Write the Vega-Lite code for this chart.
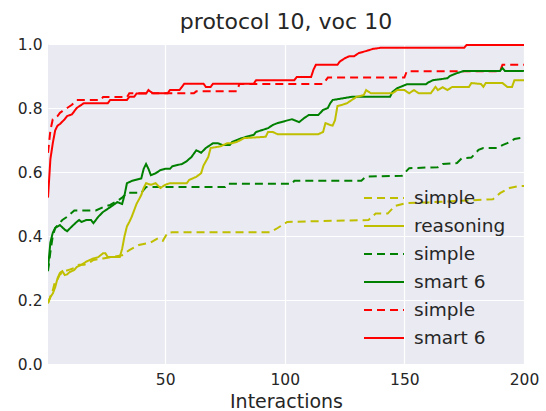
{
  "$schema": "https://vega.github.io/schema/vega-lite/v6.json",
  "width": 476,
  "height": 320,
  "autosize": "none",
  "padding": {"left": 48, "top": 44, "right": 22, "bottom": 47},
  "background": "white",
  "title": {"text": "protocol 10, voc 10", "fontSize": 22, "font": "DejaVu Sans", "fontWeight": "normal", "color": "#262626", "offset": 3},
  "config": {
    "view": {"stroke": null, "fill": "#eaeaf2"},
    "axis": {"grid": true, "gridColor": "white", "gridWidth": 1.2, "domain": false, "ticks": false, "labelFont": "DejaVu Sans", "labelColor": "#262626", "labelFontSize": 15.5, "titleFont": "DejaVu Sans", "titleColor": "#262626", "titleFontSize": 19, "titleFontWeight": "normal"},
    "legend": {"labelFont": "DejaVu Sans", "labelFontSize": 18.5, "labelColor": "#262626"}
  },
  "data": {"values": [
    {"s":"f","x":1,"y":0.52},{"s":"f","x":2,"y":0.64},{"s":"f","x":3,"y":0.69},{"s":"f","x":4,"y":0.73},{"s":"f","x":5,"y":0.745},{"s":"f","x":6,"y":0.75},{"s":"f","x":8,"y":0.765},{"s":"f","x":9,"y":0.775},{"s":"f","x":11,"y":0.78},{"s":"f","x":12,"y":0.79},{"s":"f","x":13,"y":0.8},{"s":"f","x":15,"y":0.81},{"s":"f","x":16,"y":0.815},{"s":"f","x":26,"y":0.815},{"s":"f","x":27,"y":0.825},{"s":"f","x":34,"y":0.825},{"s":"f","x":35,"y":0.835},{"s":"f","x":37,"y":0.835},{"s":"f","x":38,"y":0.845},{"s":"f","x":42,"y":0.845},{"s":"f","x":43,"y":0.856},{"s":"f","x":44,"y":0.85},{"s":"f","x":45,"y":0.846},{"s":"f","x":51,"y":0.846},{"s":"f","x":52,"y":0.856},{"s":"f","x":56,"y":0.856},{"s":"f","x":57,"y":0.866},{"s":"f","x":58,"y":0.876},{"s":"f","x":66,"y":0.876},{"s":"f","x":67,"y":0.866},{"s":"f","x":69,"y":0.866},{"s":"f","x":70,"y":0.876},{"s":"f","x":87,"y":0.876},{"s":"f","x":88,"y":0.887},{"s":"f","x":104,"y":0.887},{"s":"f","x":105,"y":0.897},{"s":"f","x":111,"y":0.897},{"s":"f","x":112,"y":0.92},{"s":"f","x":113,"y":0.935},{"s":"f","x":122,"y":0.935},{"s":"f","x":123,"y":0.945},{"s":"f","x":125,"y":0.955},{"s":"f","x":127,"y":0.962},{"s":"f","x":129,"y":0.962},{"s":"f","x":131,"y":0.972},{"s":"f","x":134,"y":0.978},{"s":"f","x":137,"y":0.985},{"s":"f","x":140,"y":0.988},{"s":"f","x":175,"y":0.988},{"s":"f","x":176,"y":0.997},{"s":"f","x":200,"y":0.997},

    {"s":"e","x":1,"y":0.66},{"s":"e","x":2,"y":0.73},{"s":"e","x":3,"y":0.765},{"s":"e","x":5,"y":0.775},{"s":"e","x":6,"y":0.785},{"s":"e","x":7,"y":0.79},{"s":"e","x":9,"y":0.8},{"s":"e","x":11,"y":0.81},{"s":"e","x":13,"y":0.825},{"s":"e","x":23,"y":0.825},{"s":"e","x":24,"y":0.834},{"s":"e","x":34,"y":0.834},{"s":"e","x":35,"y":0.846},{"s":"e","x":62,"y":0.846},{"s":"e","x":63,"y":0.852},{"s":"e","x":80,"y":0.852},{"s":"e","x":81,"y":0.875},{"s":"e","x":116,"y":0.875},{"s":"e","x":118,"y":0.895},{"s":"e","x":150,"y":0.895},{"s":"e","x":151,"y":0.915},{"s":"e","x":190,"y":0.915},{"s":"e","x":191,"y":0.935},{"s":"e","x":200,"y":0.935},

    {"s":"d","x":1,"y":0.3},{"s":"d","x":2,"y":0.38},{"s":"d","x":3,"y":0.41},{"s":"d","x":4,"y":0.425},{"s":"d","x":6,"y":0.434},{"s":"d","x":8,"y":0.42},{"s":"d","x":9,"y":0.415},{"s":"d","x":11,"y":0.43},{"s":"d","x":13,"y":0.444},{"s":"d","x":14,"y":0.45},{"s":"d","x":15,"y":0.444},{"s":"d","x":17,"y":0.45},{"s":"d","x":19,"y":0.45},{"s":"d","x":20,"y":0.44},{"s":"d","x":22,"y":0.46},{"s":"d","x":24,"y":0.475},{"s":"d","x":27,"y":0.49},{"s":"d","x":30,"y":0.506},{"s":"d","x":32,"y":0.5},{"s":"d","x":33,"y":0.528},{"s":"d","x":34,"y":0.565},{"s":"d","x":36,"y":0.572},{"s":"d","x":40,"y":0.58},{"s":"d","x":41,"y":0.61},{"s":"d","x":42,"y":0.625},{"s":"d","x":43,"y":0.61},{"s":"d","x":44,"y":0.59},{"s":"d","x":46,"y":0.596},{"s":"d","x":48,"y":0.606},{"s":"d","x":50,"y":0.61},{"s":"d","x":52,"y":0.61},{"s":"d","x":53,"y":0.618},{"s":"d","x":57,"y":0.625},{"s":"d","x":59,"y":0.634},{"s":"d","x":61,"y":0.647},{"s":"d","x":63,"y":0.668},{"s":"d","x":65,"y":0.66},{"s":"d","x":67,"y":0.675},{"s":"d","x":70,"y":0.69},{"s":"d","x":72,"y":0.69},{"s":"d","x":74,"y":0.684},{"s":"d","x":77,"y":0.684},{"s":"d","x":78,"y":0.694},{"s":"d","x":82,"y":0.706},{"s":"d","x":87,"y":0.716},{"s":"d","x":88,"y":0.725},{"s":"d","x":93,"y":0.737},{"s":"d","x":95,"y":0.747},{"s":"d","x":97,"y":0.753},{"s":"d","x":103,"y":0.765},{"s":"d","x":106,"y":0.756},{"s":"d","x":108,"y":0.768},{"s":"d","x":110,"y":0.778},{"s":"d","x":114,"y":0.778},{"s":"d","x":116,"y":0.794},{"s":"d","x":118,"y":0.8},{"s":"d","x":119,"y":0.815},{"s":"d","x":120,"y":0.825},{"s":"d","x":128,"y":0.835},{"s":"d","x":144,"y":0.835},{"s":"d","x":145,"y":0.85},{"s":"d","x":147,"y":0.862},{"s":"d","x":151,"y":0.874},{"s":"d","x":159,"y":0.874},{"s":"d","x":160,"y":0.88},{"s":"d","x":162,"y":0.887},{"s":"d","x":168,"y":0.893},{"s":"d","x":169,"y":0.9},{"s":"d","x":172,"y":0.909},{"s":"d","x":175,"y":0.916},{"s":"d","x":190,"y":0.916},{"s":"d","x":191,"y":0.925},{"s":"d","x":192,"y":0.916},{"s":"d","x":200,"y":0.916},

    {"s":"c","x":1,"y":0.29},{"s":"c","x":2,"y":0.35},{"s":"c","x":3,"y":0.4},{"s":"c","x":4,"y":0.425},{"s":"c","x":7,"y":0.45},{"s":"c","x":9,"y":0.46},{"s":"c","x":12,"y":0.48},{"s":"c","x":21,"y":0.48},{"s":"c","x":24,"y":0.49},{"s":"c","x":27,"y":0.497},{"s":"c","x":30,"y":0.51},{"s":"c","x":32,"y":0.52},{"s":"c","x":34,"y":0.535},{"s":"c","x":40,"y":0.535},{"s":"c","x":41,"y":0.544},{"s":"c","x":42,"y":0.553},{"s":"c","x":75,"y":0.553},{"s":"c","x":76,"y":0.563},{"s":"c","x":103,"y":0.563},{"s":"c","x":104,"y":0.573},{"s":"c","x":132,"y":0.573},{"s":"c","x":134,"y":0.586},{"s":"c","x":149,"y":0.588},{"s":"c","x":152,"y":0.612},{"s":"c","x":164,"y":0.615},{"s":"c","x":166,"y":0.625},{"s":"c","x":172,"y":0.628},{"s":"c","x":174,"y":0.643},{"s":"c","x":178,"y":0.645},{"s":"c","x":181,"y":0.669},{"s":"c","x":183,"y":0.675},{"s":"c","x":189,"y":0.675},{"s":"c","x":191,"y":0.684},{"s":"c","x":193,"y":0.69},{"s":"c","x":196,"y":0.703},{"s":"c","x":200,"y":0.708},

    {"s":"b","x":1,"y":0.19},{"s":"b","x":2,"y":0.21},{"s":"b","x":3,"y":0.22},{"s":"b","x":4,"y":0.24},{"s":"b","x":5,"y":0.268},{"s":"b","x":6,"y":0.285},{"s":"b","x":7,"y":0.29},{"s":"b","x":8,"y":0.278},{"s":"b","x":9,"y":0.28},{"s":"b","x":10,"y":0.287},{"s":"b","x":12,"y":0.294},{"s":"b","x":13,"y":0.303},{"s":"b","x":15,"y":0.31},{"s":"b","x":17,"y":0.32},{"s":"b","x":20,"y":0.33},{"s":"b","x":22,"y":0.334},{"s":"b","x":24,"y":0.346},{"s":"b","x":25,"y":0.346},{"s":"b","x":26,"y":0.334},{"s":"b","x":31,"y":0.334},{"s":"b","x":32,"y":0.36},{"s":"b","x":33,"y":0.4},{"s":"b","x":34,"y":0.43},{"s":"b","x":35,"y":0.444},{"s":"b","x":36,"y":0.46},{"s":"b","x":37,"y":0.48},{"s":"b","x":38,"y":0.5},{"s":"b","x":40,"y":0.528},{"s":"b","x":41,"y":0.55},{"s":"b","x":42,"y":0.565},{"s":"b","x":44,"y":0.56},{"s":"b","x":46,"y":0.565},{"s":"b","x":48,"y":0.55},{"s":"b","x":50,"y":0.56},{"s":"b","x":52,"y":0.565},{"s":"b","x":59,"y":0.565},{"s":"b","x":60,"y":0.575},{"s":"b","x":63,"y":0.585},{"s":"b","x":65,"y":0.596},{"s":"b","x":66,"y":0.62},{"s":"b","x":68,"y":0.647},{"s":"b","x":69,"y":0.675},{"s":"b","x":73,"y":0.68},{"s":"b","x":76,"y":0.69},{"s":"b","x":78,"y":0.69},{"s":"b","x":80,"y":0.694},{"s":"b","x":83,"y":0.706},{"s":"b","x":92,"y":0.71},{"s":"b","x":93,"y":0.725},{"s":"b","x":95,"y":0.725},{"s":"b","x":97,"y":0.718},{"s":"b","x":114,"y":0.718},{"s":"b","x":116,"y":0.725},{"s":"b","x":117,"y":0.753},{"s":"b","x":119,"y":0.747},{"s":"b","x":120,"y":0.745},{"s":"b","x":121,"y":0.762},{"s":"b","x":122,"y":0.806},{"s":"b","x":124,"y":0.81},{"s":"b","x":126,"y":0.815},{"s":"b","x":128,"y":0.825},{"s":"b","x":130,"y":0.835},{"s":"b","x":133,"y":0.84},{"s":"b","x":134,"y":0.856},{"s":"b","x":136,"y":0.846},{"s":"b","x":145,"y":0.846},{"s":"b","x":147,"y":0.856},{"s":"b","x":150,"y":0.856},{"s":"b","x":152,"y":0.846},{"s":"b","x":154,"y":0.856},{"s":"b","x":156,"y":0.846},{"s":"b","x":161,"y":0.846},{"s":"b","x":163,"y":0.866},{"s":"b","x":164,"y":0.856},{"s":"b","x":166,"y":0.865},{"s":"b","x":168,"y":0.856},{"s":"b","x":170,"y":0.866},{"s":"b","x":177,"y":0.866},{"s":"b","x":178,"y":0.878},{"s":"b","x":182,"y":0.875},{"s":"b","x":183,"y":0.866},{"s":"b","x":184,"y":0.878},{"s":"b","x":191,"y":0.878},{"s":"b","x":193,"y":0.866},{"s":"b","x":195,"y":0.866},{"s":"b","x":196,"y":0.887},{"s":"b","x":200,"y":0.887},

    {"s":"a","x":1,"y":0.19},{"s":"a","x":2,"y":0.21},{"s":"a","x":3,"y":0.23},{"s":"a","x":4,"y":0.26},{"s":"a","x":5,"y":0.265},{"s":"a","x":6,"y":0.28},{"s":"a","x":8,"y":0.29},{"s":"a","x":10,"y":0.295},{"s":"a","x":12,"y":0.3},{"s":"a","x":14,"y":0.31},{"s":"a","x":16,"y":0.31},{"s":"a","x":18,"y":0.315},{"s":"a","x":20,"y":0.325},{"s":"a","x":24,"y":0.33},{"s":"a","x":28,"y":0.335},{"s":"a","x":32,"y":0.34},{"s":"a","x":35,"y":0.356},{"s":"a","x":39,"y":0.372},{"s":"a","x":44,"y":0.38},{"s":"a","x":47,"y":0.393},{"s":"a","x":49,"y":0.385},{"s":"a","x":51,"y":0.41},{"s":"a","x":53,"y":0.412},{"s":"a","x":94,"y":0.412},{"s":"a","x":97,"y":0.425},{"s":"a","x":101,"y":0.444},{"s":"a","x":135,"y":0.45},{"s":"a","x":138,"y":0.47},{"s":"a","x":143,"y":0.47},{"s":"a","x":146,"y":0.494},{"s":"a","x":151,"y":0.503},{"s":"a","x":160,"y":0.505},{"s":"a","x":187,"y":0.515},{"s":"a","x":190,"y":0.534},{"s":"a","x":194,"y":0.55},{"s":"a","x":198,"y":0.556},{"s":"a","x":200,"y":0.556}
  ]},
  "mark": {"type": "line", "strokeWidth": 2, "clip": true},
  "encoding": {
    "x": {"field": "x", "type": "quantitative", "scale": {"domain": [1, 200], "nice": false, "zero": false}, "axis": {"values": [50, 100, 150, 200], "title": "Interactions", "labelPadding": 8, "titlePadding": 5, "labelFlush": false}},
    "y": {"field": "y", "type": "quantitative", "scale": {"domain": [0, 1], "nice": false}, "axis": {"values": [0, 0.2, 0.4, 0.6, 0.8, 1.0], "format": ".1f", "title": null, "labelPadding": 6, "labelFlush": false}},
    "color": {"field": "s", "type": "nominal", "scale": {"domain": ["a","b","c","d","e","f"], "range": ["#bfbf00","#bfbf00","#008000","#008000","#ff0000","#ff0000"]},
      "legend": {"title": null, "orient": "none", "legendX": 325, "legendY": 143, "symbolType": "M-2,0H2", "symbolSize": 400, "symbolStrokeWidth": 2, "symbolFillColor": "transparent", "rowPadding": 7, "labelOffset": 19, "padding": 0,
        "labelExpr": "datum.value == 'b' ? 'reasoning' : (datum.value == 'd' || datum.value == 'f') ? 'smart 6' : 'simple'"}},
    "strokeDash": {"field": "s", "type": "nominal", "scale": {"domain": ["a","b","c","d","e","f"], "range": [[8,5],[1,0],[8,5],[1,0],[8,5],[1,0]]},
      "legend": {"title": null, "orient": "none", "legendX": 325, "legendY": 143, "symbolType": "M-2,0H2", "symbolSize": 400, "symbolStrokeWidth": 2, "symbolFillColor": "transparent", "rowPadding": 7, "labelOffset": 19, "padding": 0,
        "labelExpr": "datum.value == 'b' ? 'reasoning' : (datum.value == 'd' || datum.value == 'f') ? 'smart 6' : 'simple'"}}
  }
}
